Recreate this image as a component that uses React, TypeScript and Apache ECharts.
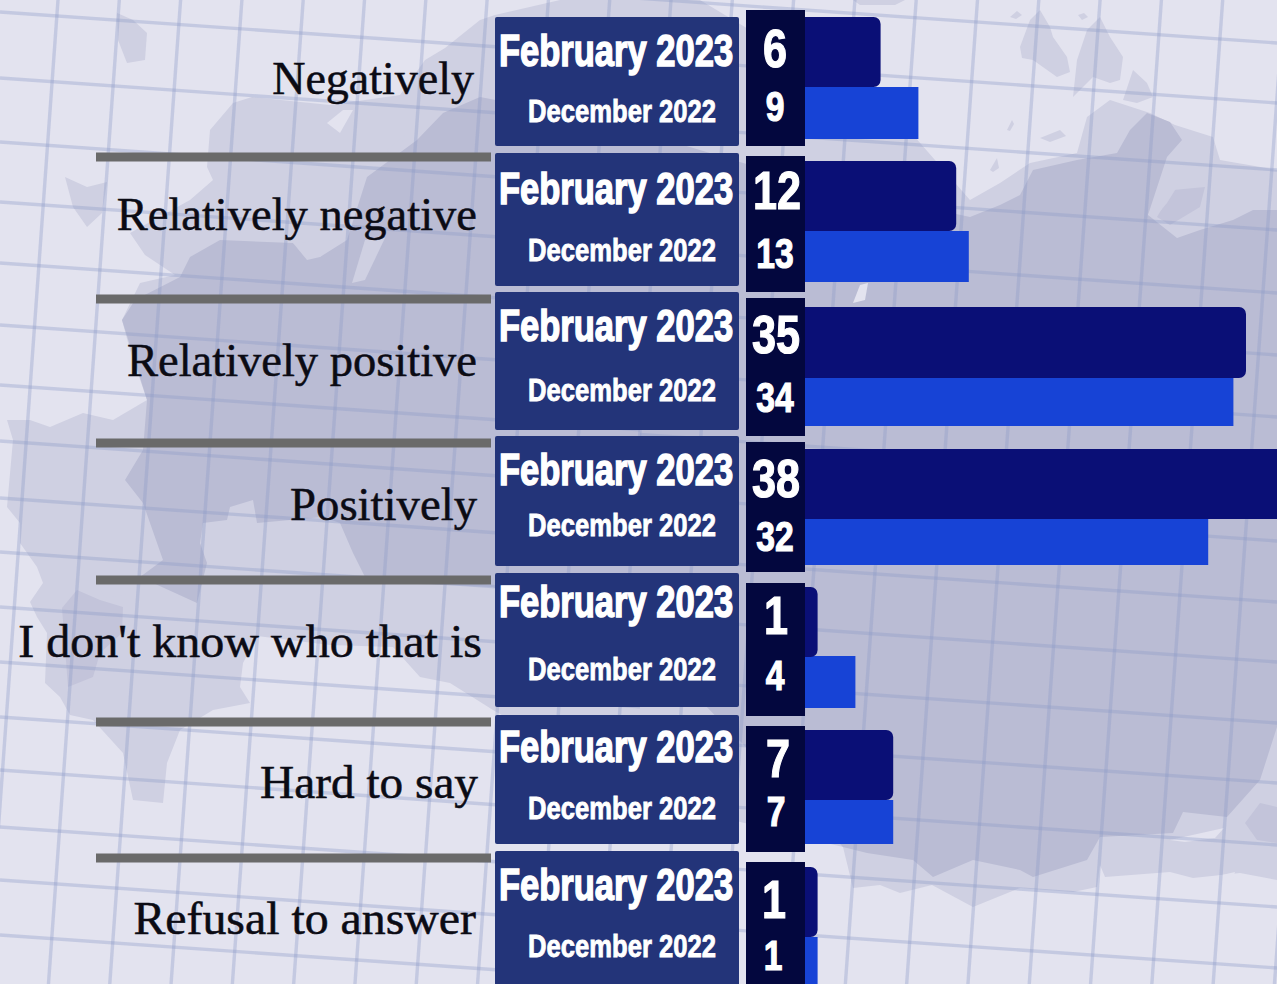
import React, { useEffect, useRef } from "react";
import * as echarts from "echarts";

// ---------- data ----------
const categories = ["Negatively", "Relatively negative", "Relatively positive", "Positively", "I don't know who that is", "Hard to say", "Refusal to answer"];
const periods = ["February 2023", "December 2022"];
const february = [6, 12, 35, 38, 1, 7, 1];
const december = [9, 13, 34, 32, 4, 7, 1];

// ---------- layout (pixels, one entry per row) ----------
const febBand = [[17, 87], [161, 231], [307, 378], [449, 519], [587, 657], [730, 800], [867, 937]];
const decBand = [[87, 139], [231, 282], [378, 426], [519, 565], [656, 708], [800, 844], [937, 994]];
const boxBand = [[17, 146], [153, 286], [292, 430], [436, 566], [573, 707], [715, 844], [851, 994]];
const numBand = [[10, 146], [156, 292], [298, 436], [442, 572], [583, 716], [726, 852], [862, 994]];
const febTextY = [50, 188, 325, 469, 601, 746, 884];
const decTextY = [111, 250, 390, 525, 669, 808, 946];
const febNumPos = [[775, 48], [777, 190], [776, 334], [776, 478], [776, 615], [778, 758], [774, 899]];
const decNumPos = [[775, 107], [775, 254], [775, 398], [775, 537], [775, 676], [776, 812], [773, 956]];
const labelPos = [[474, 78], [477, 215], [477, 361], [477, 505], [482, 641], [478, 782], [476, 918]];
const labelScale = [1.0, 1.011, 1.011, 1.016, 1.045, 1.028, 1.04];
const separatorY = [157, 299, 443, 580, 722, 858];
const axisMax = 37.46; // the tallest bar runs off the right edge of the page

const BG = "#e3e3ef";
const LIGHT = "#cfd0e2";
const MID = "#c3c4da";
const DARK = "#babcd4";

const lightShapes: number[][][] = [
  // main land
  [[233,103],[210,130],[207,167],[213,180],[190,200],[130,233],[145,255],[175,275],[140,283],[122,320],[130,350],[147,400],[113,420],[83,413],[50,427],[30,420],[7,420],[13,440],[7,507],[20,523],[20,543],[37,567],[43,583],[30,602],[37,617],[47,633],[45,683],[60,697],[70,715],[93,720],[123,753],[133,800],[163,803],[167,763],[180,730],[213,710],[250,703],[240,687],[243,663],[257,636],[330,645],[393,647],[420,677],[450,683],[493,710],[650,800],[843,847],[853,888],[880,885],[900,893],[932,885],[973,907],[1020,888],[1073,892],[1097,887],[1100,865],[1105,877],[1170,872],[1193,878],[1240,873],[1277,880],[1277,170],[1220,160],[1213,137],[1175,125],[1150,113],[1110,100],[1087,117],[1077,153],[1030,163],[1000,183],[970,200],[900,120],[700,0],[560,0],[495,15],[480,20],[445,48],[425,60],[400,95],[330,105],[252,97]],
  // islands
  [[1020,47],[1030,20],[1040,10],[1050,27],[1053,37],[1067,57],[1070,72],[1057,77],[1033,60],[1022,58]],
  [[1073,97],[1077,60],[1087,30],[1100,17],[1110,37],[1123,57],[1120,80],[1110,83],[1093,77]],
  [[1123,100],[1133,70],[1147,83],[1153,97],[1137,103]],
  [[117,13],[133,20],[147,33],[145,60],[127,63],[118,40]],
  [[65,177],[87,187],[107,182],[102,213],[87,227],[73,207]],
  [[853,0],[905,0],[895,5],[860,5]],
  [[1010,17],[1017,11],[1022,15],[1016,19]],
  [[1078,15],[1084,13],[1088,17],[1082,20]],
  [[1007,130],[1012,120],[1014,124],[1010,131]],
  [[990,170],[997,158],[999,168],[993,172]],
  [[1040,138],[1060,130],[1066,136],[1050,142]],
];

const darkShapes: number[][][] = [
  [[180,277],[190,257],[220,240],[293,243],[320,257],[347,240],[367,177],[417,140],[443,113],[480,97],[600,120],[800,180],[970,217],[1000,205],[1020,195],[1033,170],[1077,160],[1117,153],[1130,130],[1147,113],[1170,122],[1182,140],[1167,157],[1148,215],[1177,238],[1200,230],[1233,220],[1253,210],[1277,210],[1277,727],[1260,780],[1227,817],[1183,812],[1173,833],[1100,837],[1087,860],[1033,877],[1020,870],[973,860],[933,877],[913,860],[867,853],[843,847],[700,700],[493,587],[393,583],[365,577],[353,553],[340,523],[323,517],[257,523],[253,500],[230,507],[227,520],[203,523],[200,543],[207,563],[197,603],[140,577],[163,560],[143,503],[125,480],[143,450],[147,400],[122,320],[135,300]],
];

const midShapes: number[][][] = [
  [[77,590],[62,608],[68,687],[93,677],[100,653],[122,633],[123,607],[100,600]],
  [[1245,823],[1260,803],[1277,807],[1277,843],[1257,840]],
  [[1173,190],[1205,187],[1200,207],[1170,225],[1157,217]],
];

const holeLight: number[][][] = [
  [[293,243],[333,240],[320,257],[307,260]],
  [[1148,215],[1170,170],[1180,165],[1177,187],[1167,203],[1157,215]],
  [[1177,238],[1200,213],[1208,190],[1222,173],[1207,200],[1200,223]],
  [[387,150],[405,135],[395,160]],
  [[365,240],[385,238],[365,280],[352,283]],
  [[97,583],[140,577],[125,595],[105,598]],
];

const holeBg: number[][][] = [
  [[327,123],[343,110],[353,110],[340,133]],
  [[853,303],[860,285],[868,283],[865,300]],
  [[1213,884],[1200,880],[1235,872],[1232,882]],
  [[1170,840],[1224,828],[1215,838],[1185,842]],
];

const polygons = (list: number[][][], fill: string) =>
  list.map((points) => ({ type: "polygon", silent: true, shape: { points }, style: { fill } }));

const lineColor = "rgba(140,155,200,0.36)";
const gridLine = (x1: number, y1: number, x2: number, y2: number) => ({
  type: "line", silent: true, shape: { x1, y1, x2, y2 }, style: { stroke: lineColor, lineWidth: 3.4 },
});

// the sheet's grid is a photographed background: read at the left and right edges
const leftGridY = [12, 78, 142, 202, 263, 325, 385, 441, 498, 552, 607, 662, 717, 770, 827, 880, 935, 990];
const rightGridY = [43, 103, 170, 230, 293, 355, 417, 479, 541, 602, 662, 723, 783, 845, 907, 968];
const verticalCount = 22;

const background = () => {
  const lines: any[] = [];
  for (let k = 0; k < verticalCount; k++) {
    const top = 58 + 61.3 * k;
    lines.push(gridLine(top, 0, top - 0.072 * 984, 984));
  }
  leftGridY.forEach((y) => lines.push(gridLine(0, y, 640, y + 0.07 * 640)));
  rightGridY.forEach((y) => lines.push(gridLine(640, y - 0.07 * 637, 1277, y)));
  return [
    ...polygons(lightShapes, LIGHT),
    ...polygons(darkShapes, DARK),
    ...polygons(midShapes, MID),
    ...polygons(holeLight, LIGHT),
    ...polygons(holeBg, BG),
    ...lines,
  ];
};

const HEAVY = '"Liberation Sans", sans-serif';
const SERIF = '"Liberation Serif", serif';

const heavyText = (x: number, y: number, text: string, size: number, scaleX: number, stroke: number) => ({
  type: "text", x, y, scaleX, silent: true,
  style: { text, x: 0, y: 0, fill: "#ffffff", stroke: "#ffffff", lineWidth: stroke, align: "center", verticalAlign: "middle", font: `bold ${size}px ${HEAVY}` },
});

const barItem = (bands: number[][], radius: number[], color: string) =>
  (_p: any, api: any) => {
    const row = api.value(1);
    const x0 = api.coord([0, row])[0];
    const x1 = api.coord([api.value(0), row])[0];
    const [t, b] = bands[row];
    return { type: "rect", shape: { x: x0, y: t, width: x1 - x0, height: b - t, r: radius }, style: { fill: color } };
  };

const numberItem = (numPos: number[][], size: number) => (_p: any, api: any) => {
  const row = api.value(1);
  const [x, y] = numPos[row];
  return heavyText(x, y, String(api.value(0)), size, 0.8, 1.2);
};

const rowItem = (_p: any, api: any) => {
  const row = api.value(0);
  const [bt, bb] = boxBand[row];
  const [nt, nb] = numBand[row];
  const [lx, ly] = labelPos[row];
  const children: any[] = [
    { type: "rect", shape: { x: 495, y: bt, width: 244, height: bb - bt, r: 2 }, style: { fill: "#233479" } },
    { type: "rect", shape: { x: 746, y: nt, width: 59, height: nb - nt }, style: { fill: "#03073e" } },
    heavyText(616, febTextY[row], periods[0], 44, 0.785, 1.5),
    heavyText(622, decTextY[row], periods[1], 32, 0.8, 0.9),
    {
      type: "text", x: lx, y: ly, scaleX: labelScale[row], silent: true,
      style: { text: categories[row], x: 0, y: 0, fill: "#0b0b14", stroke: "#0b0b14", lineWidth: 0.5, align: "right", verticalAlign: "middle", font: `46px ${SERIF}` },
    },
  ];
  if (row < separatorY.length) {
    children.push({ type: "rect", shape: { x: 96, y: separatorY[row] - 4.5, width: 395, height: 9 }, style: { fill: "#6a6a6a" } });
  }
  return { type: "group", children };
};

export default function App() {
  const ref = useRef<HTMLDivElement>(null);
  useEffect(() => {
    document.body.style.margin = "0";
    const chart = echarts.init(ref.current!, undefined, { renderer: "svg" });
    chart.setOption({
      animation: false,
      backgroundColor: BG,
      graphic: { elements: background() },
      grid: { left: 805, top: 0, right: 0, bottom: 0 },
      xAxis: { type: "value", min: 0, max: axisMax, show: false },
      yAxis: { type: "category", data: categories, inverse: true, show: false },
      series: [
        {
          type: "custom", name: "Rows", z: 2, silent: true,
          data: categories.map((_c, i) => [i]), encode: { x: -1, y: 0 },
          renderItem: rowItem,
        },
        {
          type: "custom", name: periods[1], z: 3, silent: true,
          data: december.map((v, i) => [v, i]), encode: { x: 0, y: 1 },
          renderItem: barItem(decBand, [0, 0, 0, 0], "#1743d6"),
        },
        {
          type: "custom", name: periods[0], z: 4, silent: true,
          data: february.map((v, i) => [v, i]), encode: { x: 0, y: 1 },
          renderItem: barItem(febBand, [0, 7, 7, 0], "#0a0f76"),
        },
        {
          type: "custom", name: periods[1] + " values", z: 5, silent: true,
          data: december.map((v, i) => [v, i]), encode: { x: 0, y: 1 },
          renderItem: numberItem(decNumPos, 42),
        },
        {
          type: "custom", name: periods[0] + " values", z: 5, silent: true,
          data: february.map((v, i) => [v, i]), encode: { x: 0, y: 1 },
          renderItem: numberItem(febNumPos, 54),
        },
      ],
    });
    return () => chart.dispose();
  }, []);
  return <div ref={ref} style={{ width: 1277, height: 984 }} />;
}
